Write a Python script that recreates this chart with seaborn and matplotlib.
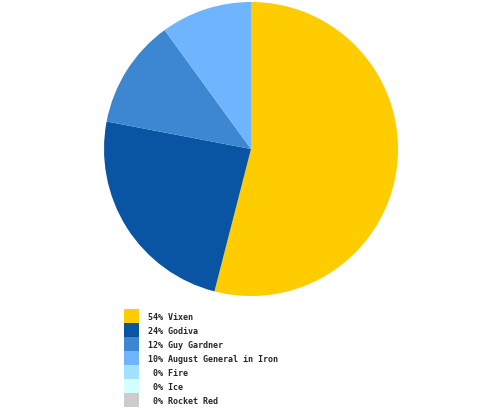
import matplotlib
matplotlib.use('Agg')
import matplotlib.pyplot as plt
import seaborn as sns
from matplotlib.patches import Patch

# data
names = ['Vixen', 'Godiva', 'Guy Gardner', 'August General in Iron', 'Fire', 'Ice', 'Rocket Red']
shares = [54, 24, 12, 10, 0, 0, 0]
colors = ['#FFCC00', '#0A55A3', '#3D87D2', '#6FB4FF', '#A0E2FF', '#D2FFFF', '#CCCCCC']

sns.set_style('white')
palette = sns.color_palette(colors)

fig = plt.figure(figsize=(5, 4.1), dpi=100)
ax = fig.add_axes([104 / 500, (410 - 297) / 410, 294 / 500, 294 / 410])
ax.pie(shares, colors=palette, startangle=90, counterclock=False,
       wedgeprops={'linewidth': 0}, radius=1.0)
ax.set_xlim(-1, 1)
ax.set_ylim(-1, 1)
ax.set_aspect('equal')
ax.axis('off')

labels = [f'{p:>2}% {n}' for p, n in zip(shares, names)]
handles = [Patch(facecolor=c, edgecolor='none') for c in palette]
fs = 6
px = fs * 100 / 72
fig.legend(handles, labels, loc='upper left',
           bbox_to_anchor=(124 / 500, 1 - 310 / 410),
           frameon=False, borderpad=0, borderaxespad=0,
           handlelength=15 / px, handleheight=14 * 1.315 / px,
           labelspacing=0, handletextpad=9 / px,
           prop={'family': 'DejaVu Sans Mono', 'size': fs, 'weight': 'bold'})

fig.savefig('out.png', dpi=100)
